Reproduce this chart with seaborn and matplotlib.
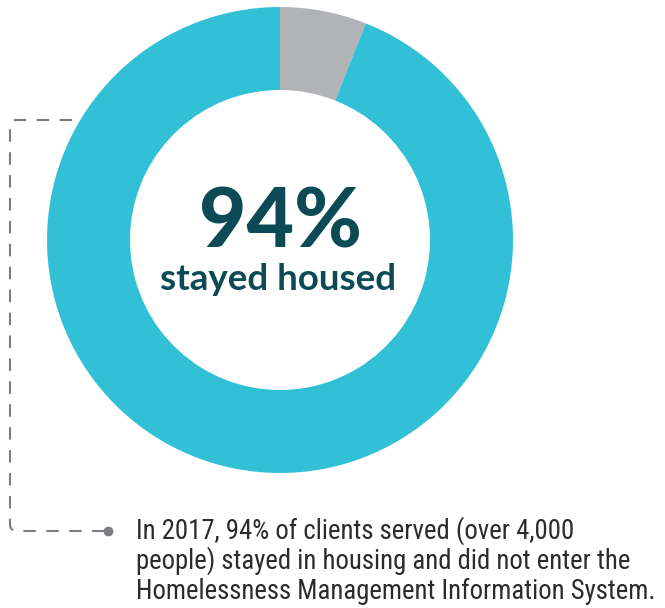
import numpy as np
import matplotlib
matplotlib.use("Agg")
import matplotlib.pyplot as plt
import seaborn as sns

# Share of clients, from the donut
labels = ["Entered HMIS", "Stayed housed"]
shares = [6, 94]
colors = ["#B2B3B7", "#31C0D6"]

headline = "94%"
subline = "stayed housed"
note_lines = [
    "In 2017, 94% of clients served (over 4,000",
    "people) stayed in housing and did not enter the",
    "Homelessness Management Information System.",
]

sns.set_theme(style="white")
plt.rcParams["font.family"] = ["Roboto Condensed", "Sofia Sans Semi Condensed", "DejaVu Sans"]
head_font = ["Lato", "DejaVu Sans"]

fig = plt.figure(figsize=(6.65, 6.08), dpi=100)
ax = fig.add_axes([0, 0, 1, 1])

# donut, pixel coords with y pointing down
ax.pie(shares, colors=sns.color_palette(colors), center=(280, 240), radius=233,
       startangle=-90, counterclock=True,
       wedgeprops=dict(width=83, linewidth=0, zorder=3))

# dashed connector with rounded corners
r = 6
t = np.linspace(0, np.pi / 2, 8)
xs = np.concatenate([[95], 10 + r - r * np.sin(t), 10 + r - r * np.cos(t), [104]])
ys = np.concatenate([[120], 120 + r - r * np.cos(t), 531 - r + r * np.sin(t), [531]])
ax.plot(xs, ys, color="#7C7D80", lw=1.5, dashes=(6, 5), zorder=1,
        solid_capstyle="butt", dash_capstyle="butt")
ax.plot([108], [531], "o", color="#7C7D80", ms=6, zorder=2)

ax.text(280, 248, headline, ha="center", va="baseline", fontsize=59,
        fontweight="black", color="#0C4B55", family=head_font, zorder=4)
ax.text(278, 290, subline, ha="center", va="baseline", fontsize=26.5,
        fontweight="bold", color="#0C4B55", family=head_font, zorder=4)

for i, line in enumerate(note_lines):
    ax.text(136, 539 + 30 * i, line, ha="left", va="baseline", fontsize=19.3,
            color="#2B2B2B")

ax.set_xlim(0, 665)
ax.set_ylim(608, 0)
ax.set_aspect("auto")
ax.axis("off")

fig.savefig("out.png", dpi=100)
